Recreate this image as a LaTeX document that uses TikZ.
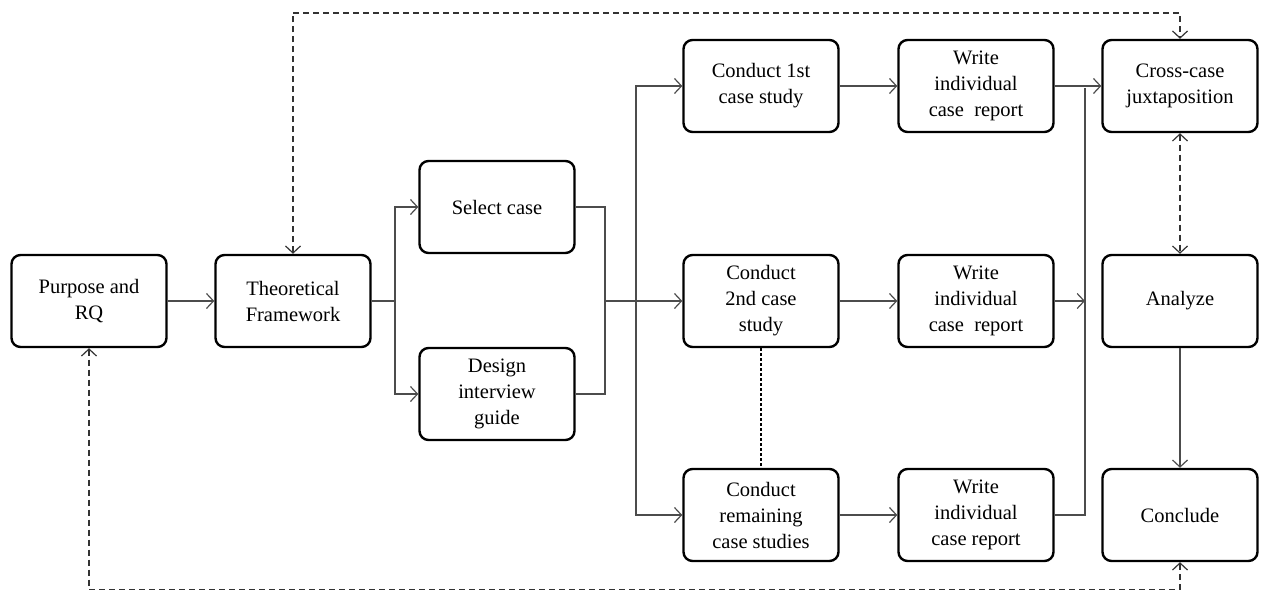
\documentclass[tikz,border=0pt]{standalone}
\usepackage{fontspec}
\setmainfont{Liberation Serif}
\usetikzlibrary{arrows.meta}
\begin{document}
\begin{tikzpicture}[x=1pt,y=-1pt,
  box/.style={draw=black, rounded corners=9pt, line width=2.4pt, minimum width=155pt, minimum height=92pt, align=center, font=\fontsize{20.5}{26}\selectfont, inner sep=2pt},
  conn/.style={line width=1.2pt, draw=black!70},
  arr/.style={conn, -{Straight Barb[length=7pt,width=15pt,line width=1.2pt]}},
  dconn/.style={line width=1.4pt, draw=black!80, dash pattern=on 6pt off 4pt, {Straight Barb[length=7pt,width=15pt,line width=1.2pt]}-{Straight Barb[length=7pt,width=15pt,line width=1.2pt]}},
  dotline/.style={line width=2.6pt, dash pattern=on 2.6pt off 2.4pt}
]
\useasboundingbox (0,0) rectangle (1261,595);
\node[box] (pr) at (89,301) {Purpose and\\RQ};
\node[box] (tf) at (293,301) {Theoretical\\Framework};
\node[box] (sel) at (497,207) {Select case};
\node[box] (des) at (497,394) {Design\\interview\\guide};
\node[box] (c1) at (761,86) {Conduct 1st\\case study};
\node[box] (c2) at (761,301) {Conduct\\2nd case\\study};
\node[box] (c3) at (761,515) {Conduct\\remaining\\case studies};
\node[box] (w1) at (976,86) {Write\\individual\\case\ \ report};
\node[box] (w2) at (976,301) {Write\\individual\\case\ \ report};
\node[box] (w3) at (976,515) {Write\\individual\\case report};
\node[box] (cc) at (1180,86) {Cross-case\\juxtaposition};
\node[box] (an) at (1180,301) {Analyze};
\node[box] (co) at (1180,515) {Conclude};

\coordinate (ts) at (395,301);
\coordinate (j) at (605,301);
\coordinate (v) at (636,301);
\coordinate (w) at (1085,301);
\coordinate (wt) at (1085,88);

\draw[arr] (pr.east) -- (tf.west);
\draw[conn] (tf.east) -- (ts);
\draw[arr] (ts) |- (sel.west);
\draw[arr] (ts) |- (des.west);
\draw[conn] (sel.east) -| (j) |- (des.east);
\draw[arr] (j) -- (c2.west);
\draw[arr] (v) |- (c1.west);
\draw[arr] (v) |- (c3.west);
\draw[arr] (c1.east) -- (w1.west);
\draw[arr] (c2.east) -- (w2.west);
\draw[arr] (c3.east) -- (w3.west);
\draw[arr] (w1.east) -- (cc.west);
\draw[arr] (w2.east) -- (w);
\draw[conn] (w3.east) -| (wt);
\draw[dotline] (c2.south) -- (c3.north);
\draw[dconn] (cc.south) -- (an.north);
\draw[arr] (an.south) -- (co.north);
\draw[dconn] (tf.north) -- ++(0,-241) -| (cc.north);
\draw[dconn] (pr.south) -- ++(0,241) -| (co.south);
\end{tikzpicture}
\end{document}
